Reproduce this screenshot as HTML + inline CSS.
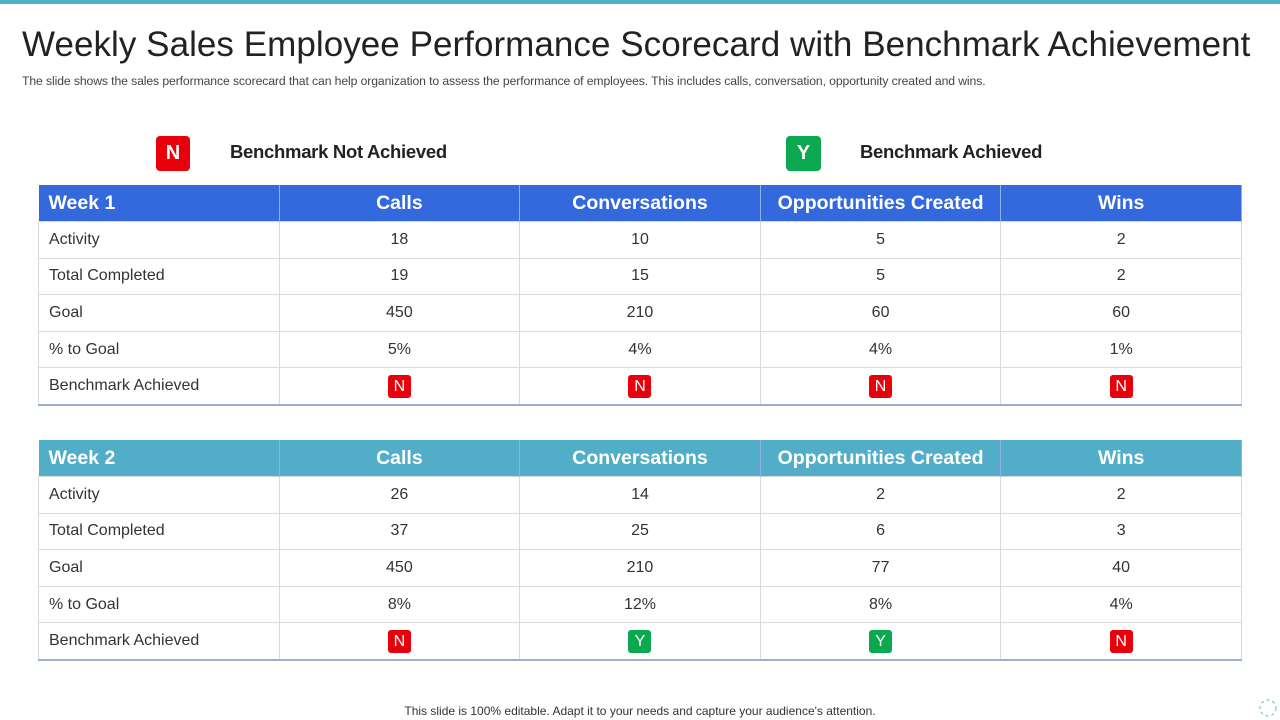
<!DOCTYPE html>
<html><head><meta charset="utf-8"><style>
body{margin:0;width:1280px;height:720px;background:#fff;position:relative;overflow:hidden;font-family:"Liberation Sans",sans-serif;}
.topbar{position:absolute;left:0;top:0;width:1280px;height:4px;background:#4fb0c6;}
h1{position:absolute;left:22px;top:25px;margin:0;font-weight:normal;font-size:35px;color:#222;letter-spacing:0.05px;white-space:nowrap;}
.sub{position:absolute;left:22px;top:74px;font-size:12.2px;color:#444;letter-spacing:-0.1px;white-space:nowrap;}
.badge{position:absolute;color:#fff;text-align:center;border-radius:4px;font-weight:bold;}
.leg{position:absolute;font-size:18.5px;font-weight:bold;color:#222;letter-spacing:-0.3px;}
table{position:absolute;left:38px;width:1204px;border-collapse:collapse;table-layout:fixed;}
th{height:36px;color:#fff;font-size:19.5px;font-weight:bold;text-align:center;border-right:1px solid #8fb0e8;padding:0;}
th:first-child{text-align:left;padding-left:10px;}
td{height:35.6px;border:1px solid #d9d9de;font-size:16px;color:#333;text-align:center;padding:0;}
td:first-child{text-align:left;padding-left:10px;}
tr:last-child td{border-bottom:2px solid #9ab0cc;}
.sb{display:inline-block;width:23px;height:23px;line-height:23px;border-radius:3px;color:#fff;font-size:16px;vertical-align:middle;}
.foot{position:absolute;left:0;width:1280px;top:704px;text-align:center;font-size:12px;color:#333;}
</style></head><body>
<div class="topbar"></div>
<h1>Weekly Sales Employee Performance Scorecard with Benchmark Achievement</h1>
<div class="sub">The slide shows the sales performance scorecard that can help organization to assess the performance of employees. This includes calls, conversation, opportunity created and wins.</div>
<div class="badge" style="left:156px;top:136px;width:34px;height:35px;line-height:35px;font-size:20px;background:#e8000b">N</div>
<div class="leg" style="left:230px;top:141px">Benchmark Not Achieved</div>
<div class="badge" style="left:786px;top:136px;width:35px;height:35px;line-height:35px;font-size:20px;background:#0aa84f">Y</div>
<div class="leg" style="left:860px;top:141px">Benchmark Achieved</div>
<div id="tables"></div>
<div class="foot">This slide is 100% editable. Adapt it to your needs and capture your audience's attention.</div>
<svg style="position:absolute;left:1258px;top:698px" width="20" height="20"><circle cx="10" cy="10" r="8" fill="none" stroke="#7cc4d8" stroke-width="1.2" stroke-dasharray="3 3"/></svg>
<script>
const columns=["Calls","Conversations","Opportunities Created","Wins"];
const rowLabels=["Activity","Total Completed","Goal","% to Goal","Benchmark Achieved"];
const week1Activity=[18,10,5,2];
const week1Completed=[19,15,5,2];
const week1Goal=[450,210,60,60];
const week1Pct=["5%","4%","4%","1%"];
const week1Bench=["N","N","N","N"];
const week2Activity=[26,14,2,2];
const week2Completed=[37,25,6,3];
const week2Goal=[450,210,77,40];
const week2Pct=["8%","12%","8%","4%"];
const week2Bench=["N","Y","Y","N"];
const weeks=[
 {name:"Week 1",top:185,color:"#3369dd",rows:[week1Activity,week1Completed,week1Goal,week1Pct,week1Bench]},
 {name:"Week 2",top:440,color:"#52aec8",rows:[week2Activity,week2Completed,week2Goal,week2Pct,week2Bench]}
];
const host=document.getElementById('tables');
weeks.forEach((w,wi)=>{
 const t=document.createElement('table');
 
 
 t.style.top=w.top+'px';
 let h='<tr style="background:'+w.color+'"><th>'+w.name+'</th>';
 columns.forEach(c=>{h+='<th>'+c+'</th>';});
 h+='</tr>';
 rowLabels.forEach((r,ri)=>{
  h+='<tr><td>'+r+'</td>';
  w.rows[ri].forEach(v=>{
   if(ri===4){const bg=v==='Y'?'#0aa84f':'#e8000b';
    h+='<td><span class="sb" style="background:'+bg+'">'+v+'</span></td>';}
   else h+='<td>'+v+'</td>';
  });
  h+='</tr>';
 });
 t.innerHTML=h;
 host.appendChild(t);
});
</script>
</body></html>
